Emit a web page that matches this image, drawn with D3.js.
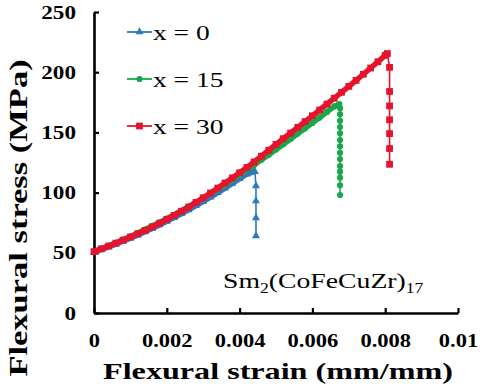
<!DOCTYPE html>
<html>
<head>
<meta charset="utf-8">
<script src="https://cdn.jsdelivr.net/npm/d3@7"></script>
<style>
  html, body { margin: 0; padding: 0; background: #fff; }
  svg { display: block; }
  text { font-family: 'Liberation Serif', 'Times New Roman', serif; fill: #000; }
</style>
</head>
<body>
<div id="chart"></div>
<script>

// Strain steps shared by the three loading curves (mm/mm).
const curveStrain = [
  0, 0.0002, 0.0004, 0.0006, 0.0008, 0.0010, 0.0012, 0.0014, 0.0016, 0.0018,
  0.0020, 0.0022, 0.0024, 0.0026, 0.0028, 0.0030, 0.0032, 0.0034, 0.0036, 0.0038,
  0.0040, 0.0042, 0.0044, 0.0046, 0.0048, 0.0050, 0.0052, 0.0054, 0.0056, 0.0058,
  0.0060, 0.0062, 0.0064, 0.0066, 0.0068, 0.0070, 0.0072, 0.0074, 0.0076, 0.0078,
  0.0080
];

// Flexural stress (MPa) along the curves.
const stressX0 = [
  50.5, 52.7, 54.9, 57.2, 59.6, 62.1, 64.7, 67.4, 70.2, 73.1,
  76.1, 79.2, 82.4, 85.7, 89.1, 92.6, 96.2, 99.9, 103.7, 107.6,
  111.5, 115.4, 117.4
];
const stressX15 = [
  51.0, 53.4, 55.8, 58.3, 60.9, 63.6, 66.4, 69.3, 72.3, 75.3,
  78.4, 81.6, 84.9, 88.3, 91.8, 95.4, 99.1, 102.9, 106.8, 110.8,
  114.8, 118.9, 123.0, 127.2, 131.5, 135.8, 140.2, 144.6, 149.0, 153.4,
  157.9, 162.4, 167.0, 171.6
];
const stressX30 = [
  51.0, 53.3, 55.6, 58.0, 60.5, 63.1, 65.8, 68.6, 71.5, 74.6,
  77.8, 81.1, 84.5, 88.0, 91.8, 95.7, 99.7, 103.8, 108.0, 112.2,
  116.5, 120.9, 125.5, 130.3, 135.2, 140.0, 144.8, 149.5, 154.2, 159.0,
  163.8, 168.6, 173.5, 178.4, 183.3, 188.2, 193.2, 198.3, 203.5, 208.7,
  214.0
];

// Peak point and the fracture drop after it.
const peakX0 = [0.00442, 117.4];
const peakX15 = [0.00674, 173.6];
const peakX30 = [0.00806, 215.5];
const dropStrain = [0.00445, 0.00676, 0.00812];
const dropX0 = [105.5, 93.0, 79.0, 64.0];
const dropX15 = [170, 165, 159.6, 154.4, 149.2, 143.6, 138.4, 133.1, 127.9, 122.1, 117.4, 112.4, 106.1, 98];
const dropX30 = [204, 184, 172, 160.5, 149, 136.6, 123.5];

const seriesNames = ['x = 0', 'x = 15', 'x = 30'];

const xTicks = [0, 0.002, 0.004, 0.006, 0.008, 0.01];
const xTickLabels = ['0', '0.002', '0.004', '0.006', '0.008', '0.01'];
const yTicks = [0, 50, 100, 150, 200, 250];


const width = 480;
const height = 391;
const colors = ['#2e78c0', '#18a84c', '#e5142c'];
const symbols = [d3.symbolTriangle, d3.symbolCircle, d3.symbolSquare];
const symbolSizes = [28, 30, 46];

const svg = d3.select('#chart').append('svg')
  .attr('width', width)
  .attr('height', height);

const x = d3.scaleLinear().domain([0, 0.01]).range([94, 458]);
const y = d3.scaleLinear().domain([0, 250]).range([313, 12]);


/**
 * Curve points up to the peak, and peak plus drop points.
 */
function build(stress, peak, dStrain, drop) {
  let curve = stress.map((s, i) => [curveStrain[i], s]);
  curve.push(peak);
  let fall = [peak].concat(drop.map(s => [dStrain, s]));
  return { curve: curve, fall: fall };
}

const series = [
  build(stressX0, peakX0, dropStrain[0], dropX0),
  build(stressX15, peakX15, dropStrain[1], dropX15),
  build(stressX30, peakX30, dropStrain[2], dropX30)
];


// Axes, ticks pointing inward.
const xAxis = svg.append('g')
  .attr('transform', `translate(0,${y(0)})`)
  .call(d3.axisBottom(x)
    .tickValues(xTicks)
    .tickFormat((d, i) => xTickLabels[i])
    .tickSizeInner(-5)
    .tickSizeOuter(0)
    .tickPadding(21));

const yAxis = svg.append('g')
  .attr('transform', `translate(${x(0)},0)`)
  .call(d3.axisLeft(y)
    .tickValues(yTicks)
    .tickFormat(d3.format('d'))
    .tickSizeInner(-5)
    .tickSizeOuter(0)
    .tickPadding(18));

[xAxis, yAxis].forEach(g => {
  g.select('.domain').attr('stroke', '#000').attr('stroke-width', 2.6);
  g.selectAll('.tick line').attr('stroke', '#000').attr('stroke-width', 2.2);
  g.selectAll('text')
    .attr('font-family', null)
    .style('font-weight', 'bold');
});

xAxis.selectAll('text')
  .attr('font-size', 18)
  .attr('transform', 'scale(1.25,1)')
  .attr('x', 0);

yAxis.selectAll('text')
  .attr('font-size', 19)
  .attr('x', null)
  .attr('transform', 'translate(-18,0) scale(1.22,1)');


// The curves: thick band of dense markers, thin line on the drop.
const line = d3.line().x(d => x(d[0])).y(d => y(d[1]));

series.forEach((s, i) => {
  let g = svg.append('g');

  g.append('path')
    .attr('d', line(s.curve))
    .attr('fill', 'none')
    .attr('stroke', colors[i])
    .attr('stroke-width', 5.5)
    .attr('stroke-linejoin', 'round');

  g.append('path')
    .attr('d', line(s.fall))
    .attr('fill', 'none')
    .attr('stroke', colors[i])
    .attr('stroke-width', 1.6);

  g.selectAll('path.mark')
    .data(s.curve.concat(s.fall.slice(1)))
    .join('path')
    .attr('class', 'mark')
    .attr('d', d3.symbol(symbols[i], symbolSizes[i]))
    .attr('transform', d => `translate(${x(d[0])},${y(d[1])})`)
    .attr('fill', colors[i]);
});


// Legend.
const legend = svg.append('g');
const legendY = [32, 79, 126];

seriesNames.forEach((name, i) => {
  let row = legend.append('g').attr('transform', `translate(127,${legendY[i]})`);

  row.append('line')
    .attr('x1', 0).attr('x2', 25)
    .attr('stroke', colors[i])
    .attr('stroke-width', 1.8);

  row.append('path')
    .attr('d', d3.symbol(symbols[i], symbolSizes[i]))
    .attr('transform', 'translate(12.5,0)')
    .attr('fill', colors[i]);

  row.append('text')
    .attr('transform', 'translate(26,0) scale(1.25,1)')
    .attr('dy', '0.35em')
    .attr('font-size', 22)
    .text(name);
});


// Composition label.
const label = svg.append('text')
  .attr('transform', 'translate(223,288) scale(1.26,1)')
  .attr('font-size', 22);
label.append('tspan').text('Sm');
label.append('tspan').attr('font-size', 14).attr('dy', 5).text('2');
label.append('tspan').attr('dy', -5).text('(CoFeCuZr)');
label.append('tspan').attr('font-size', 14).attr('dy', 5).text('17');


// Axis titles.
svg.append('text')
  .attr('transform', 'translate(278,379) scale(1.34,1)')
  .attr('text-anchor', 'middle')
  .attr('font-size', 24)
  .attr('font-weight', 'bold')
  .text('Flexural strain (mm/mm)');

svg.append('text')
  .attr('transform', 'translate(27,218) rotate(-90) scale(1.38,1)')
  .attr('text-anchor', 'middle')
  .attr('font-size', 25)
  .attr('font-weight', 'bold')
  .text('Flexural stress (MPa)');

</script>
</body>
</html>
